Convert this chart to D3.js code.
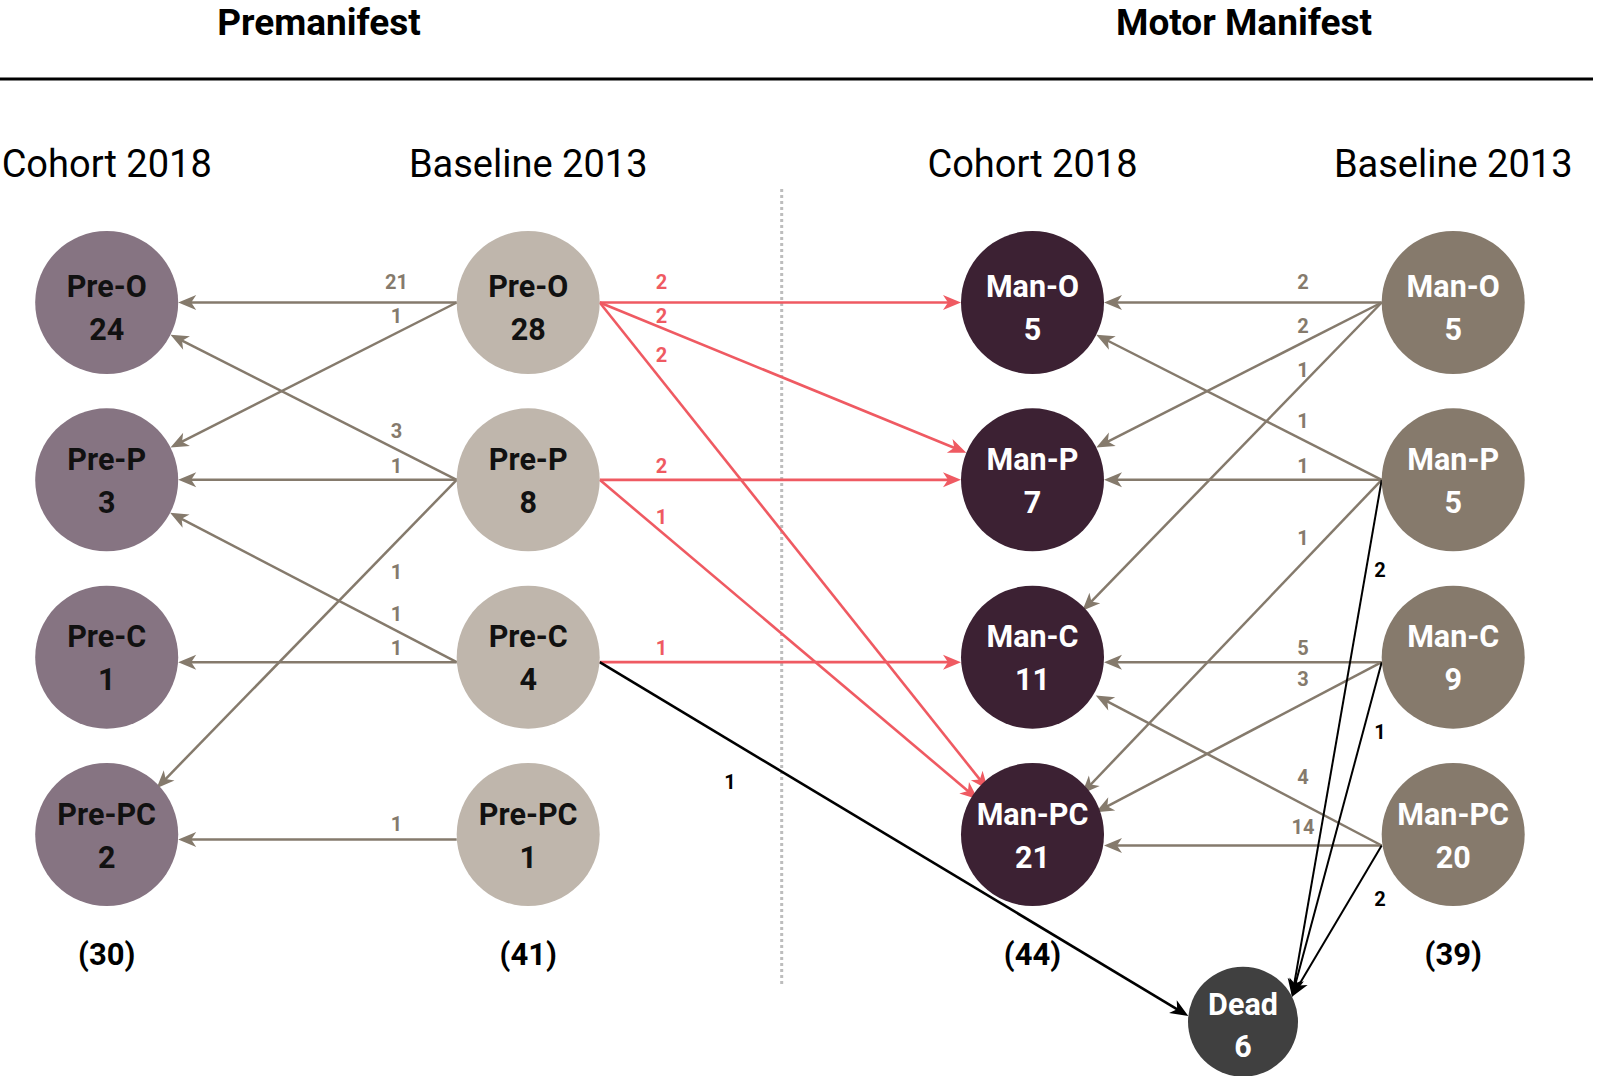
<!DOCTYPE html>
<html><head><meta charset="utf-8">
<script src="https://cdn.jsdelivr.net/npm/d3@7"></script>
<style>html,body{margin:0;padding:0;background:#fff;} svg{display:block;font-family:Roboto,'Liberation Sans',Arial,sans-serif;}</style>
</head><body><svg id="chart" width="1600" height="1076"></svg>
<script>
// ---------------- DATA ----------------
const states = ["O", "P", "C", "PC"];
const groupTitles = ["Premanifest", "Motor Manifest"];
const columnKeys = ["preC", "preB", "manC", "manB"];
const columnTitles = ["Cohort 2018", "Baseline 2013", "Cohort 2018", "Baseline 2013"];
const preCohortCounts = [24, 3, 1, 2];
const preBaselineCounts = [28, 8, 4, 1];
const manCohortCounts = [5, 7, 11, 21];
const manBaselineCounts = [5, 5, 9, 20];
const deadCount = 6;
// [from baseline state, to cohort state, n]
const preTransitions = [["O","O",21],["O","P",1],["P","O",3],["P","P",1],["P","PC",1],["C","P",1],["C","C",1],["PC","PC",1]];
const conversions = [["O","O",2],["O","P",2],["O","PC",2],["P","P",2],["P","PC",1],["C","C",1]];
const manTransitions = [["O","O",2],["O","P",2],["O","C",1],["P","O",1],["P","P",1],["P","PC",1],["C","C",5],["C","PC",3],["PC","C",4],["PC","PC",14]];
// [group of baseline, baseline state, n]
const deaths = [["pre","C",1],["man","P",2],["man","C",1],["man","PC",2]];

// ---------------- LAYOUT ----------------
const svg = d3.select("#chart");
const colX = d3.scaleOrdinal().domain(columnKeys).range([106.7, 528.2, 1032.5, 1453.2]);
const rowY = d3.scalePoint().domain(states).range([302.5, 834.5]);
const R = 71.5;
const anchorDy = {pre: {O: 0, P: 0, C: 5, PC: 5}, man: {O: 0, P: 0, C: 5, PC: 11}};
const textShift = {O: 4, P: 0, C: 0, PC: 0};
const dead = {x: 1243, y: 1021.7, r: 55};
const deadPortAngle = {pre: 186, man: -27};
const fills = {preC: "#867482", preB: "#bfb6ac", manC: "#3c2133", manB: "#867a6c"};
const textFill = {preC: "#111", preB: "#111", manC: "#fff", manB: "#fff"};
const brown = "#857a6c", red = "#ef5a62", black = "#000";
const labelCol = {pre: 396.5, conv: 661.5, preDead: 730, man: 1303, manDead: 1380};
const preLabelDy = [-13.2, -10, -10.9, -6.7, 37, -9.6, -7, -8.8];
const convLabelDy = [-13.2, -5.1, -18.4, -6.7, -8.3, -7];
const manLabelDy = [-13.5, -9.2, -6.1, -12.3, -6.7, -17.5, -7, -17.5, -19.8, -11.7];
const deathLabelDy = [48.4, 87.5, 70.7, 58];

// markers
const defs = svg.append("defs");
[["brown", brown], ["red", red], ["black", black]].forEach(([id, c]) => {
  defs.append("marker").attr("id", "arr-" + id)
    .attr("viewBox", "-19 -8 20 16").attr("refX", -8).attr("refY", 0)
    .attr("markerWidth", 20).attr("markerHeight", 16)
    .attr("markerUnits", "userSpaceOnUse").attr("orient", "auto")
    .append("path").attr("d", "M0,0 L-18,-7.5 L-13,0 L-18,7.5 Z").attr("fill", c);
});

// titles
const groupX = [319, 1244];
svg.selectAll("text.group").data(groupTitles).join("text").attr("class", "group")
  .attr("x", (d, i) => groupX[i]).attr("y", 35).attr("text-anchor", "middle")
  .attr("font-size", 37).attr("font-weight", "bold").attr("fill", "#000").text(d => d);
svg.append("line").attr("x1", 0).attr("x2", 1593).attr("y1", 79).attr("y2", 79)
  .attr("stroke", "#000").attr("stroke-width", 3);
svg.selectAll("text.coltitle").data(columnKeys).join("text").attr("class", "coltitle")
  .attr("x", d => colX(d)).attr("y", 177).attr("text-anchor", "middle")
  .attr("font-size", 38).attr("fill", "#000").text((d, i) => columnTitles[i]);
// divider
svg.append("line").attr("x1", 781.7).attr("x2", 781.7).attr("y1", 189).attr("y2", 987)
  .attr("stroke", "#bdbdbd").attr("stroke-width", 3).attr("stroke-dasharray", "3 3");

// edges
const edgeLayer = svg.append("g");
const labelLayer = svg.append("g");
function drawEdge(sx, sy, ax, ay, clip, color, markerId, width, n, lx, ldy, lcolor) {
  const dx = ax - sx, dy = ay - sy, L = Math.hypot(dx, dy);
  const ex = ax - clip * dx / L, ey = ay - clip * dy / L;
  const fx = ex - 8 * dx / L, fy = ey - 8 * dy / L;
  edgeLayer.append("line").attr("x1", sx).attr("y1", sy).attr("x2", fx).attr("y2", fy)
    .attr("stroke", color).attr("stroke-width", width).attr("marker-end", "url(#arr-" + markerId + ")");
  const ly = sy + (lx - sx) / (ax - sx) * (ay - sy) + ldy;
  labelLayer.append("text").attr("x", lx).attr("y", ly).attr("text-anchor", "middle")
    .attr("font-size", 20).attr("font-weight", "bold").attr("fill", lcolor).text(n);
}
preTransitions.forEach(([f, t, n], i) => {
  drawEdge(colX("preB") - R, rowY(f) + anchorDy.pre[f], colX("preC"), rowY(t) + anchorDy.pre[t], R,
    brown, "brown", 2.5, n, labelCol.pre, preLabelDy[i], brown);
});
conversions.forEach(([f, t, n], i) => {
  drawEdge(colX("preB") + R, rowY(f) + anchorDy.pre[f], colX("manC"), rowY(t) + anchorDy.man[t], R,
    red, "red", 2.6, n, labelCol.conv, convLabelDy[i], red);
});
manTransitions.forEach(([f, t, n], i) => {
  drawEdge(colX("manB") - R, rowY(f) + anchorDy.man[f], colX("manC"), rowY(t) + anchorDy.man[t], R,
    brown, "brown", 2.5, n, labelCol.man, manLabelDy[i], brown);
});
deaths.forEach(([g, f, n], i) => {
  const a = deadPortAngle[g] * Math.PI / 180;
  const px = dead.x + dead.r * Math.cos(a), py = dead.y + dead.r * Math.sin(a);
  const sx = g === "pre" ? colX("preB") + R : colX("manB") - R;
  drawEdge(sx, rowY(f) + anchorDy[g][f], px, py, 0, black, "black", g === "pre" ? 2.6 : 2,
    n, g === "pre" ? labelCol.preDead : labelCol.manDead, deathLabelDy[i], black);
});

// nodes
const nodeData = [];
[["preC", "Pre-", preCohortCounts], ["preB", "Pre-", preBaselineCounts],
 ["manC", "Man-", manCohortCounts], ["manB", "Man-", manBaselineCounts]].forEach(([col, pre, counts]) => {
  states.forEach((s, i) => nodeData.push({col, state: s, name: pre + s, n: counts[i]}));
});
const nodes = svg.append("g").selectAll("g").data(nodeData).join("g")
  .attr("transform", d => `translate(${colX(d.col)},${rowY(d.state)})`);
nodes.append("circle").attr("r", R).attr("fill", d => fills[d.col]);
nodes.append("text").attr("text-anchor", "middle").attr("y", d => -10 + textShift[d.state])
  .attr("font-size", 30.5).attr("font-weight", "bold").attr("fill", d => textFill[d.col]).text(d => d.name);
nodes.append("text").attr("text-anchor", "middle").attr("y", d => 33 + textShift[d.state])
  .attr("font-size", 30.5).attr("font-weight", "bold").attr("fill", d => textFill[d.col]).text(d => d.n);

const dg = svg.append("g").attr("transform", `translate(${dead.x},${dead.y})`);
dg.append("circle").attr("r", dead.r).attr("fill", "#404040");
dg.append("text").attr("text-anchor", "middle").attr("y", -6.7).attr("font-size", 30.5)
  .attr("font-weight", "bold").attr("fill", "#fff").text("Dead");
dg.append("text").attr("text-anchor", "middle").attr("y", 35.6).attr("font-size", 30.5)
  .attr("font-weight", "bold").attr("fill", "#fff").text(deadCount);

// totals
const totals = [preCohortCounts, preBaselineCounts, manCohortCounts, manBaselineCounts].map(a => d3.sum(a));
svg.selectAll("text.total").data(columnKeys).join("text").attr("class", "total")
  .attr("x", d => colX(d)).attr("y", 965).attr("text-anchor", "middle")
  .attr("font-size", 31).attr("font-weight", "bold").attr("fill", "#000")
  .text((d, i) => `(${totals[i]})`);
</script></body></html>
